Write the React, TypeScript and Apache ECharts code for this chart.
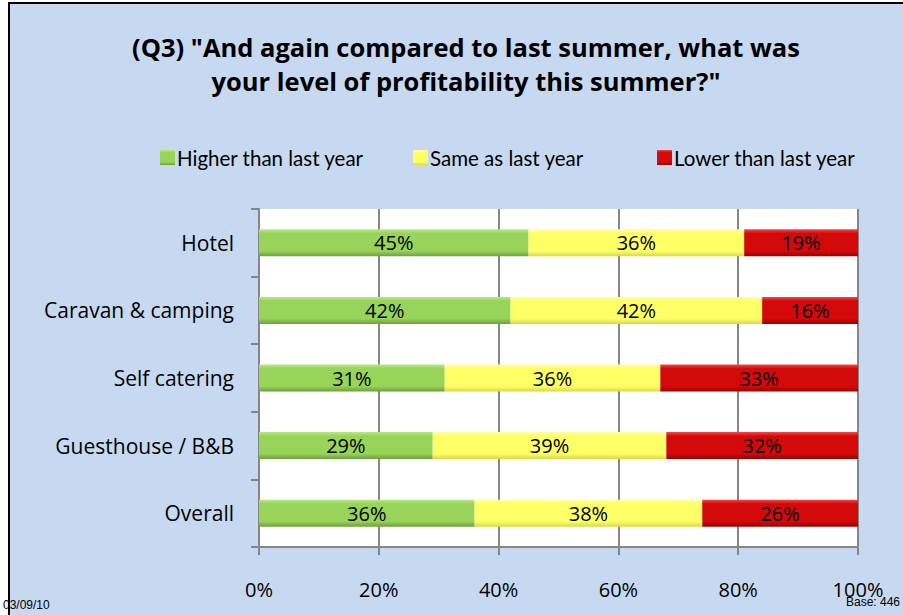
import React, { useEffect, useRef } from "react";
import * as echarts from "echarts";

const categories = ["Hotel", "Caravan & camping", "Self catering", "Guesthouse / B&B", "Overall"];
const higher = [45, 42, 31, 29, 36];
const same = [36, 42, 36, 39, 38];
const lower = [19, 16, 33, 32, 26];
const seriesNames = ["Higher than last year", "Same as last year", "Lower than last year"];
const titleLines = ["(Q3) \"And again compared to last summer, what was", "your level of profitability this summer?\""];

const FONT = "Open Sans";
const LEGEND_FONT = "Lato";

function grad(top: string, mid: string, bottom: string) {
  return new echarts.graphic.LinearGradient(0, 0, 0, 1, [
    { offset: 0, color: top },
    { offset: 0.15, color: mid },
    { offset: 0.8, color: mid },
    { offset: 1, color: bottom },
  ]);
}

export default function App() {
  const ref = useRef<HTMLDivElement>(null);
  useEffect(() => {
    if (!ref.current) return;
    const chart = echarts.init(ref.current, undefined, { renderer: "svg" });
    const colors = [
      grad("#b8ea84", "#98d45a", "#6f9f3c"),
      grad("#ffffa8", "#ffff66", "#d8d848"),
      grad("#f44848", "#d40a0a", "#9c0000"),
    ];
    const flat = ["#92d050", "#ffff66", "#d40000"];
    const data = [higher, same, lower];
    const legendLefts = [155, 408, 652];
    chart.setOption({
      animation: false,
      backgroundColor: "transparent",
      textStyle: { fontFamily: FONT },
      graphic: [
        {
          type: "rect",
          shape: { x: 9, y: 3, width: 1000, height: 700 },
          style: { fill: "#c6d9f1", stroke: "#000", lineWidth: 2 },
          z: -10,
        },
        {
          type: "text",
          x: 466,
          y: 30,
          style: {
            text: titleLines.join("\n"),
            fontFamily: FONT,
            fontWeight: "bold",
            fontSize: 25.5,
            lineHeight: 34,
            fill: "#000",
            align: "center",
            verticalAlign: "top",
          },
        },
        {
          type: "text",
          left: 3,
          top: 599,
          style: { text: "03/09/10", fontFamily: "Liberation Sans", fontSize: 12, fill: "#000" },
        },
        {
          type: "text",
          right: 3,
          top: 596,
          style: { text: "Base: 446", fontFamily: "Liberation Sans", fontSize: 12, fill: "#000" },
        },
      ],
      legend: seriesNames.map((n, i) => ({
        data: [n],
        left: legendLefts[i],
        top: 142,
        icon: "rect",
        itemWidth: 15,
        itemHeight: 15,
        itemGap: 3,
        textStyle: { fontFamily: LEGEND_FONT, fontSize: 20.5, color: "#000", padding: [0, 0, 0, -3] },
      })),
      grid: { left: 259, right: 45, top: 209, bottom: 68, backgroundColor: "#fff", show: true, borderWidth: 0 },
      xAxis: {
        type: "value",
        min: 0,
        max: 100,
        interval: 20,
        axisLine: { show: true, lineStyle: { color: "#868686", width: 2 } },
        axisTick: { show: true, length: 8, lineStyle: { color: "#868686", width: 2 } },
        splitLine: { show: true, lineStyle: { color: "#868686", width: 2 } },
        axisLabel: { formatter: "{value}%", fontSize: 20, color: "#000", margin: 32, fontFamily: FONT },
      },
      yAxis: {
        type: "category",
        data: categories,
        inverse: true,
        axisLine: { show: true, lineStyle: { color: "#868686", width: 2 } },
        axisTick: { show: true, length: 8, lineStyle: { color: "#868686", width: 2 } },
        axisLabel: { fontSize: 21, color: "#000", margin: 25, fontFamily: FONT },
      },
      series: seriesNames.map((n, i) => ({
        name: n,
        type: "bar",
        stack: "total",
        barCategoryGap: "60%",
        data: data[i],
        color: flat[i],
        itemStyle: { color: colors[i] },
        label: { show: true, position: "inside", formatter: "{c}%", fontSize: 20, color: "#000", fontFamily: FONT },
        emphasis: { disabled: true },
      })),
    });
    return () => chart.dispose();
  }, []);
  return <div ref={ref} style={{ position: "absolute", left: 0, top: 0, width: 903, height: 615 }} />;
}
